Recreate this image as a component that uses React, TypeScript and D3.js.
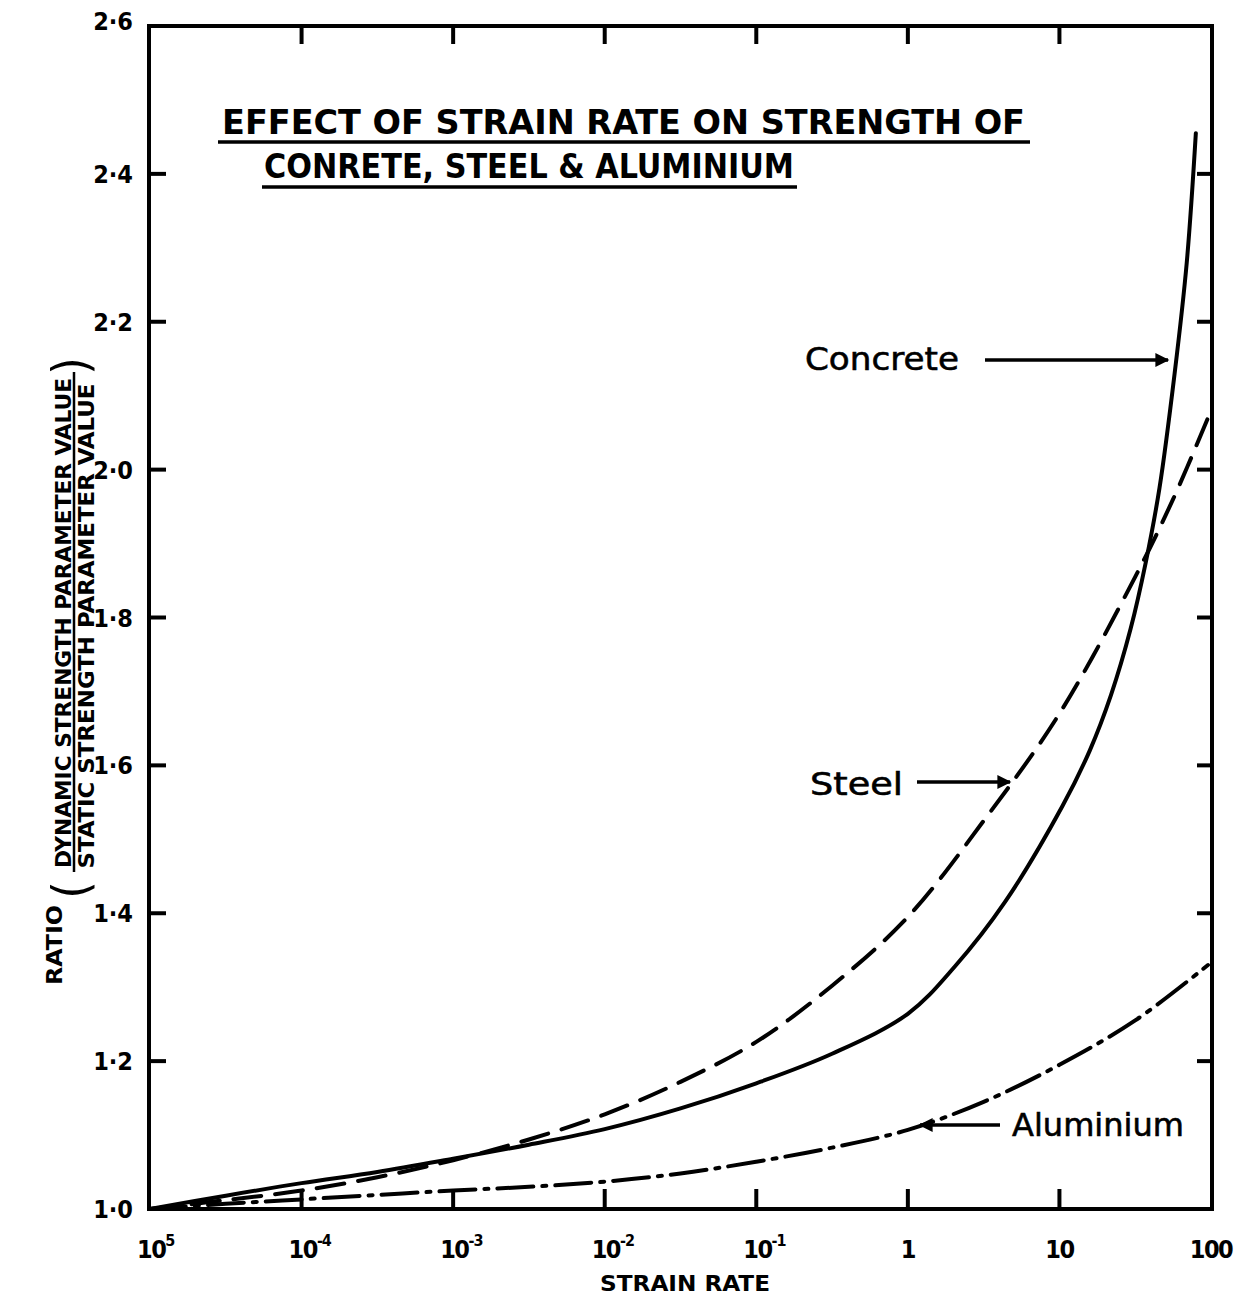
import React, { useRef, useEffect } from 'react';
import * as d3 from 'd3';

// strain rate exponents (10^e) and strength ratios
const concreteExp = [-5, -4.5, -4, -3.5, -3, -2.5, -2, -1.5, -1, -0.5, 0, 0.31, 0.64, 1.02, 1.2, 1.34, 1.47, 1.57, 1.66, 1.76, 1.84, 1.9];
const concreteRatio = [1.0, 1.018, 1.035, 1.05, 1.068, 1.087, 1.108, 1.136, 1.17, 1.21, 1.264, 1.328, 1.415, 1.545, 1.62, 1.695, 1.785, 1.875, 1.975, 2.13, 2.28, 2.455];

const steelExp = [-5, -4.5, -4, -3.5, -3, -2.5, -2, -1.5, -1, -0.5, 0, 0.5, 1, 1.5, 1.75, 1.98];
const steelRatio = [1.0, 1.012, 1.025, 1.043, 1.066, 1.094, 1.128, 1.172, 1.226, 1.302, 1.395, 1.525, 1.67, 1.855, 1.96, 2.07];

const aluminiumExp = [-5, -4.5, -4, -3.5, -3, -2.5, -2, -1.5, -1, -0.5, 0, 0.5, 1, 1.5, 1.98];
const aluminiumRatio = [1.0, 1.007, 1.013, 1.019, 1.025, 1.03, 1.037, 1.048, 1.064, 1.083, 1.107, 1.145, 1.195, 1.255, 1.33];

const xTickExp = [-5, -4, -3, -2, -1, 0, 1, 2];
const xTickBase = ['10', '10', '10', '10', '10', '1', '10', '100'];
const xTickSup = ['5', '-4', '-3', '-2', '-1', '', '', ''];
const yTicks = [1.0, 1.2, 1.4, 1.6, 1.8, 2.0, 2.2, 2.4, 2.6];
const yTickLabels = ['1·0', '1·2', '1·4', '1·6', '1·8', '2·0', '2·2', '2·4', '2·6'];

const W = 1245;
const H = 1297;

const App = () => {
  const svgRef = useRef(null);

  useEffect(() => {
    const svg = d3.select(svgRef.current);
    svg.selectAll('*').remove();

    const left = 150, right = 1211, top = 26, bottom = 1209;
    const xScale = d3.scaleLog().domain([1e-5, 100]).range([left, right]);
    const yScale = d3.scaleLinear().domain([1.0, 2.6]).range([bottom, top]);

    const cond = '"DejaVu Sans Condensed", "DejaVu Sans", sans-serif';

    svg.append('rect').attr('width', W).attr('height', H).attr('fill', '#fff');

    // arrow head marker
    svg.append('defs').append('marker')
      .attr('id', 'head')
      .attr('viewBox', '0 0 10 10')
      .attr('refX', 9).attr('refY', 5)
      .attr('markerWidth', 5).attr('markerHeight', 4)
      .attr('markerUnits', 'strokeWidth')
      .attr('orient', 'auto')
      .append('path').attr('d', 'M0,0 L10,5 L0,10 Z').attr('fill', '#000');

    // frame
    svg.append('rect')
      .attr('x', left - 1).attr('y', top)
      .attr('width', right - left + 2).attr('height', bottom - top)
      .attr('fill', 'none').attr('stroke', '#000').attr('stroke-width', 4);

    // x ticks (bottom up, top down)
    const xg = svg.append('g');
    xTickExp.slice(1, -1).forEach(e => {
      const x = xScale(Math.pow(10, e));
      xg.append('line').attr('x1', x).attr('x2', x).attr('y1', bottom).attr('y2', bottom - 20)
        .attr('stroke', '#000').attr('stroke-width', 4);
      xg.append('line').attr('x1', x).attr('x2', x).attr('y1', top).attr('y2', top + 18)
        .attr('stroke', '#000').attr('stroke-width', 4);
    });
    xTickExp.forEach((e, i) => {
      const x = xScale(Math.pow(10, e));
      const t = xg.append('text')
        .attr('x', xTickSup[i] ? x - 13 : x)
        .attr('y', 1258)
        .attr('text-anchor', xTickSup[i] ? 'start' : 'middle')
        .attr('font-family', cond).attr('font-weight', 'bold').attr('font-size', 25)
        .attr('letter-spacing', -1.5)
        .text(xTickBase[i]);
      if (xTickSup[i]) {
        t.append('tspan').attr('dy', -12).attr('font-size', 16).attr('letter-spacing', -1)
          .text(xTickSup[i]);
      }
    });

    // y ticks (left and right, inward)
    const yg = svg.append('g');
    yTicks.slice(1, -1).forEach(v => {
      const y = yScale(v);
      yg.append('line').attr('x1', left).attr('x2', left + 16).attr('y1', y).attr('y2', y)
        .attr('stroke', '#000').attr('stroke-width', 4);
      yg.append('line').attr('x1', right).attr('x2', right - 14).attr('y1', y).attr('y2', y)
        .attr('stroke', '#000').attr('stroke-width', 4);
    });
    yTicks.forEach((v, i) => {
      yg.append('text')
        .attr('x', 133).attr('y', yScale(v) + 9 - (i === yTicks.length - 1 ? 5 : 0))
        .attr('text-anchor', 'end')
        .attr('font-family', cond).attr('font-weight', 'bold').attr('font-size', 25)
        .text(yTickLabels[i]);
    });

    // curves
    const line = d3.line()
      .x(d => xScale(Math.pow(10, d[0])))
      .y(d => yScale(d[1]))
      .curve(d3.curveCatmullRom.alpha(0.5));

    const series = [
      { exp: concreteExp, val: concreteRatio, dash: null },
      { exp: steelExp, val: steelRatio, dash: '28 14' },
      { exp: aluminiumExp, val: aluminiumRatio, dash: '36 9 4 9' },
    ];
    series.forEach(s => {
      svg.append('path')
        .attr('d', line(s.exp.map((e, i) => [e, s.val[i]])))
        .attr('fill', 'none')
        .attr('stroke', '#000')
        .attr('stroke-width', 4)
        .attr('stroke-linecap', 'round')
        .attr('stroke-dasharray', s.dash);
    });

    // title
    const title = [
      { text: 'EFFECT OF STRAIN RATE ON STRENGTH OF', x: 222, y: 134, len: 803, ux: [218, 1030], uy: 142 },
      { text: 'CONRETE, STEEL & ALUMINIUM', x: 264, y: 178, len: 530, ux: [262, 797], uy: 187 },
    ];
    title.forEach(t => {
      svg.append('text')
        .attr('x', t.x).attr('y', t.y)
        .attr('font-family', cond).attr('font-weight', 'bold').attr('font-size', 33)
        .attr('textLength', t.len).attr('lengthAdjust', 'spacingAndGlyphs')
        .text(t.text);
      svg.append('line')
        .attr('x1', t.ux[0]).attr('x2', t.ux[1]).attr('y1', t.uy).attr('y2', t.uy)
        .attr('stroke', '#000').attr('stroke-width', 3.5);
    });

    // annotations
    const notes = [
      { text: 'Concrete', x: 805, y: 370, len: 154, from: [985, 360], to: [1168, 360] },
      { text: 'Steel', x: 810, y: 795, len: 93, from: [917, 782], to: [1010, 782] },
      { text: 'Aluminium', x: 1012, y: 1136, len: 172, from: [1000, 1125], to: [920, 1125] },
    ];
    notes.forEach(n => {
      svg.append('text')
        .attr('x', n.x).attr('y', n.y)
        .attr('font-family', '"DejaVu Sans", sans-serif').attr('font-size', 32)
        .attr('textLength', n.len).attr('lengthAdjust', 'spacingAndGlyphs')
        .attr('stroke', '#000').attr('stroke-width', 0.6)
        .text(n.text);
      svg.append('line')
        .attr('x1', n.from[0]).attr('y1', n.from[1])
        .attr('x2', n.to[0]).attr('y2', n.to[1])
        .attr('stroke', '#000').attr('stroke-width', 3.5)
        .attr('marker-end', 'url(#head)');
    });

    // x axis title
    svg.append('text')
      .attr('x', 685).attr('y', 1291)
      .attr('text-anchor', 'middle')
      .attr('font-family', cond).attr('font-weight', 'bold').attr('font-size', 22)
      .attr('textLength', 170).attr('lengthAdjust', 'spacingAndGlyphs')
      .text('STRAIN RATE');

    // y axis title (rotated)
    const rot = (x, y) => `translate(${x},${y}) rotate(-90)`;
    const yLab = svg.append('g')
      .attr('font-family', cond).attr('font-weight', 'bold').attr('text-anchor', 'middle');
    yLab.append('text').attr('transform', rot(62, 945)).attr('font-size', 22)
      .attr('textLength', 80).attr('lengthAdjust', 'spacingAndGlyphs').text('RATIO');
    yLab.append('text').attr('transform', rot(88, 890)).attr('font-size', 50)
      .attr('font-weight', 'normal').text('(');
    yLab.append('text').attr('transform', rot(71, 623)).attr('font-size', 21)
      .attr('textLength', 490).attr('lengthAdjust', 'spacingAndGlyphs')
      .text('DYNAMIC STRENGTH PARAMETER VALUE');
    yLab.append('line').attr('x1', 74).attr('x2', 74).attr('y1', 372).attr('y2', 872)
      .attr('stroke', '#000').attr('stroke-width', 2.5);
    yLab.append('text').attr('transform', rot(94, 626)).attr('font-size', 21)
      .attr('textLength', 485).attr('lengthAdjust', 'spacingAndGlyphs')
      .text('STATIC STRENGTH PARAMETER VALUE');
    yLab.append('text').attr('transform', rot(88, 366)).attr('font-size', 50)
      .attr('font-weight', 'normal').text(')');
  }, []);

  return (
    <svg
      ref={svgRef}
      width={W}
      height={H}
      style={{ position: 'absolute', left: 0, top: 0 }}
    />
  );
};

export default App;
